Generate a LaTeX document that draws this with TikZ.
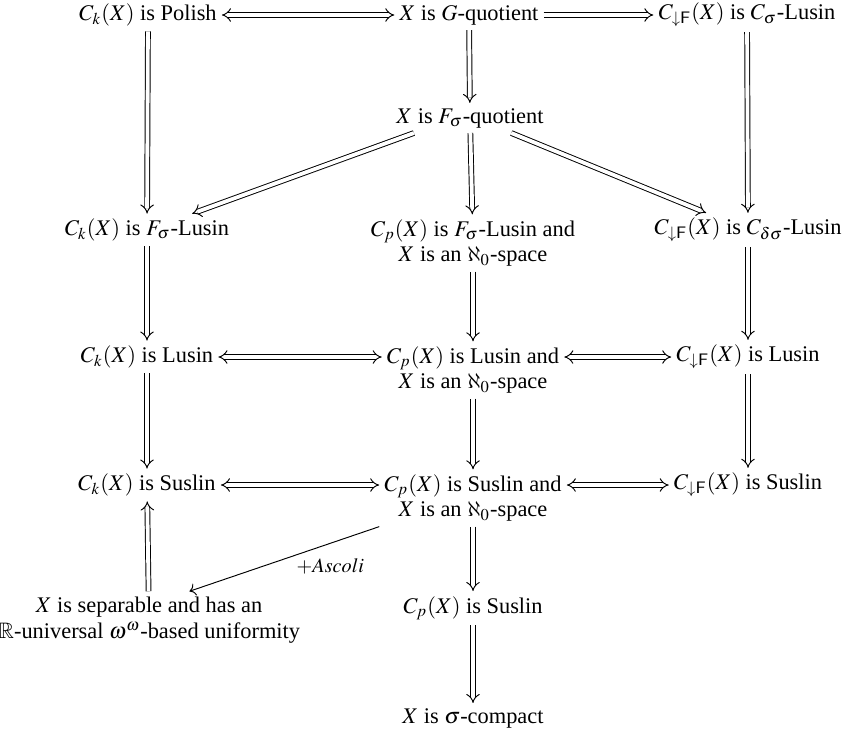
\documentclass[tikz,border=0pt]{standalone}
\usepackage{amssymb}
\usepackage{mathptmx}
\usepackage[no-math]{fontspec}
\setmainfont{Liberation Serif}
\usetikzlibrary{arrows.meta}
\DeclareSymbolFont{cmsyalt}{OMS}{cmsy}{m}{n}
\DeclareMathSymbol{\cmaleph}{\mathord}{cmsyalt}{"40}

\begin{document}
\begin{tikzpicture}[x=0.42pt,y=-0.42pt,
	every node/.style={align=center,inner sep=2pt,font=\fontsize{9.4}{10.6}\selectfont},
	imp/.style={double,double distance=1.6pt,-{Implies[scale=1.3]}},
	iff/.style={double,double distance=1.6pt,{Implies[scale=1.3]}-{Implies[scale=1.3]}}]
	\useasboundingbox (0,0) rectangle (844,732);
	% top rows
	\node (polish) at (148,15) {$C_k(X)$ is Polish};
	\node (gquot) at (469,15) {$X$ is $G$-quotient};
	\node (csig) at (747,15) {$C_{\downarrow\mathsf{F}}(X)$ is $C_\sigma$-Lusin};
	\node (fquot) at (470,118) {$X$ is $F_\sigma$-quotient};
	% F_sigma row
	\node (kfs) at (147,230) {$C_k(X)$ is $F_\sigma$-Lusin};
	\node (pfs) at (473,243) {$C_p(X)$ is $F_\sigma$-Lusin and\\ $X$ is an $\cmaleph_0$-space};
	\node (cds) at (748,230) {$C_{\downarrow\mathsf{F}}(X)$ is $C_{\delta\sigma}$-Lusin};
	% Lusin row
	\node (klus) at (147,357) {$C_k(X)$ is Lusin};
	\node (plus) at (473,370) {$C_p(X)$ is Lusin and\\ $X$ is an $\cmaleph_0$-space};
	\node (flus) at (748,357) {$C_{\downarrow\mathsf{F}}(X)$ is Lusin};
	% Suslin row
	\node (ksus) at (147,485) {$C_k(X)$ is Suslin};
	\node (psus) at (473,498) {$C_p(X)$ is Suslin and\\ $X$ is an $\cmaleph_0$-space};
	\node (fsus) at (748,485) {$C_{\downarrow\mathsf{F}}(X)$ is Suslin};
	% bottom
	\node[font=\fontsize{9.4}{11.2}\selectfont] (sep) at (149,620) {$X$ is separable and has an\\ $\mathbb{R}$-universal $\omega^\omega$-based uniformity};
	\node (cpsus) at (473,608) {$C_p(X)$ is Suslin};
	\node (scomp) at (473,718) {$X$ is $\sigma$-compact};
	% horizontal
	\draw[iff] (polish) -- (gquot);
	\draw[imp] (gquot) -- (csig);
	\draw[iff] (klus) -- (klus -| plus.west);
	\draw[iff] (klus -| plus.east) -- (flus);
	\draw[iff] (ksus) -- (ksus -| psus.west);
	\draw[iff] (ksus -| psus.east) -- (fsus);
	% vertical
	\draw[imp] (polish) -- (kfs);
	\draw[imp] (kfs) -- (klus);
	\draw[imp] (klus) -- (ksus);
	\draw[imp] (sep) -- (ksus);
	\draw[imp] (gquot) -- (fquot);
	\draw[imp] (fquot) -- (pfs);
	\draw[imp] (pfs) -- (plus);
	\draw[imp] (plus) -- (psus);
	\draw[imp] (psus) -- (cpsus);
	\draw[imp] (cpsus) -- (scomp);
	\draw[imp] (csig) -- (cds);
	\draw[imp] (cds) -- (flus);
	\draw[imp] (flus) -- (fsus);
	% diagonal
	\draw[imp] (fquot.195) -- (kfs);
	\draw[imp] (fquot.-20) -- (cds);
	\draw[->] (psus.south west) -- node[pos=0.45,below right,inner sep=1pt,font=\fontsize{8.5}{9}\selectfont] {$+Ascoli$} ([xshift=17pt]sep.north);
\end{tikzpicture}
\end{document}
